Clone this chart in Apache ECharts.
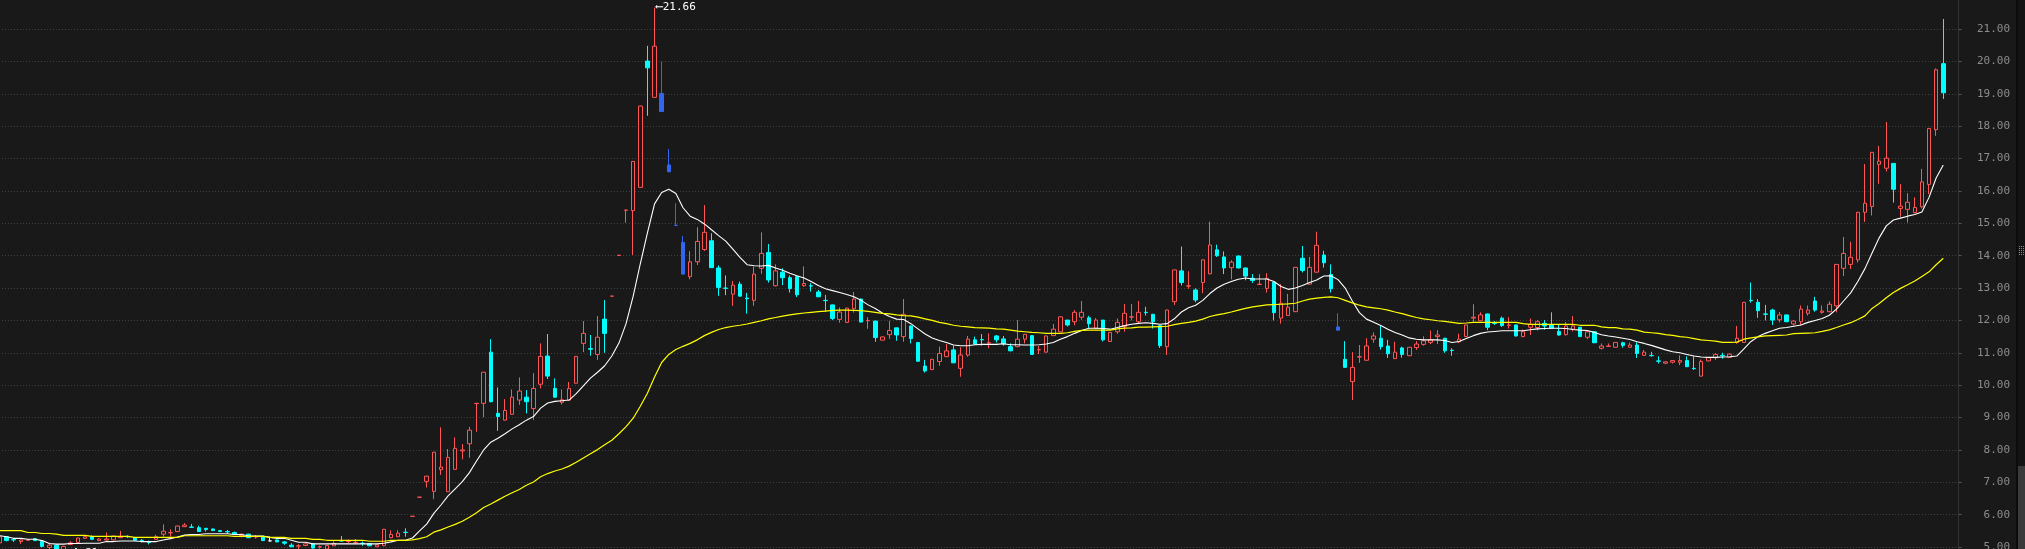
<!DOCTYPE html>
<html><head><meta charset="utf-8">
<script src="https://cdn.jsdelivr.net/npm/echarts@6.0.0/dist/echarts.min.js"></script>
<style>html,body{margin:0;padding:0;background:#191919;overflow:hidden}#c{width:2025px;height:549px}</style>
</head><body><div id="c"></div>
<script>
// [open, close, low, high]
const candles = [
[5.13,5.32,5.10,5.34],[5.32,5.20,5.18,5.33],[5.23,5.22,5.16,5.28],[5.17,5.22,5.10,5.23],[5.21,5.22,5.21,5.22],
[5.26,5.20,5.20,5.27],[5.17,5.02,4.99,5.18],[4.99,5.06,4.93,5.13],[5.06,4.92,4.90,5.08],[4.90,5.02,4.81,5.04],
[5.08,5.13,5.06,5.18],[5.14,5.28,5.13,5.29],[5.27,5.32,5.26,5.33],[5.32,5.24,5.23,5.36],[5.20,5.25,5.19,5.28],
[5.22,5.25,5.20,5.45],[5.22,5.34,5.21,5.35],[5.29,5.32,5.28,5.50],[5.33,5.32,5.28,5.36],[5.28,5.21,5.20,5.29],
[5.21,5.20,5.14,5.25],[5.15,5.14,5.08,5.20],[5.24,5.32,5.22,5.38],[5.40,5.49,5.32,5.70],[5.44,5.45,5.32,5.55],
[5.48,5.65,5.47,5.66],[5.63,5.68,5.62,5.74],[5.62,5.61,5.60,5.71],[5.60,5.48,5.47,5.66],[5.58,5.54,5.48,5.58],
[5.56,5.51,5.50,5.57],[5.51,5.48,5.47,5.53],[5.48,5.47,5.42,5.53],[5.45,5.39,5.38,5.48],[5.36,5.40,5.30,5.41],
[5.40,5.29,5.28,5.41],[5.31,5.32,5.26,5.37],[5.32,5.20,5.19,5.33],[5.19,5.19,5.19,5.32],[5.22,5.16,5.15,5.23],
[5.16,5.12,5.07,5.19],[5.06,5.01,5.00,5.12],[5.03,5.04,4.94,5.09],[5.05,5.10,5.04,5.12],[5.10,4.97,4.95,5.11],
[5.00,5.01,4.95,5.05],[4.94,5.05,4.92,5.06],[5.04,5.11,5.03,5.18],[5.20,5.19,5.16,5.34],[5.17,5.18,5.12,5.23],
[5.14,5.15,5.11,5.25],[5.12,5.11,5.04,5.17],[5.11,5.04,5.03,5.12],[5.01,5.07,5.00,5.08],[5.04,5.55,5.03,5.56],
[5.29,5.39,5.27,5.52],[5.32,5.43,5.31,5.52],[5.46,5.45,5.32,5.58],[5.95,5.95,5.95,5.95],[6.54,6.54,6.54,6.54],
[7.03,7.19,6.84,7.20],[6.72,7.93,6.48,7.94],[7.39,7.47,7.23,8.70],[6.71,7.77,6.70,8.03],[7.40,8.05,7.39,8.39],
[7.97,8.00,7.71,8.18],[8.19,8.61,7.76,8.71],[9.43,9.44,8.56,9.44],[9.44,10.40,9.01,10.41],[11.02,9.49,9.47,11.42],
[9.13,9.03,8.59,9.93],[8.92,9.22,8.91,9.57],[9.10,9.63,9.09,9.87],[9.54,9.82,9.39,10.24],[9.63,9.49,9.13,9.85],
[9.28,9.90,8.92,10.37],[10.03,10.89,9.90,11.29],[10.90,10.28,10.19,11.58],[9.90,9.63,9.61,10.21],[9.47,9.55,9.40,9.87],
[9.54,9.90,9.51,10.10],[10.06,10.89,10.05,10.90],[11.29,11.60,11.02,11.98],[11.13,11.11,10.91,11.55],[10.95,11.48,10.78,12.14],
[12.04,11.60,11.00,12.63],[12.75,12.75,12.75,12.75],[14.01,14.01,14.01,14.01],[15.40,15.41,15.02,15.41],[15.39,16.91,14.02,16.92],
[16.11,18.62,16.10,18.63],[20.01,19.80,18.32,20.48],[18.89,20.47,18.88,21.66],[19.01,18.45,18.44,19.99],[16.80,16.59,16.58,17.29],
[14.94,14.93,14.93,15.62],[14.41,13.43,13.42,14.61],[13.35,13.81,13.27,14.14],[13.81,14.44,13.71,14.88],[14.19,14.72,14.15,15.56],
[14.46,13.63,13.62,14.69],[13.62,13.02,12.76,13.70],[13.00,12.99,12.78,13.39],[12.81,13.09,12.45,13.22],[13.12,12.75,12.74,13.20],
[12.69,12.67,12.21,12.85],[12.62,13.43,12.45,13.66],[13.61,14.07,13.44,14.72],[14.10,13.25,13.17,14.36],[13.07,13.53,13.05,13.73],
[13.49,13.32,13.09,13.61],[13.32,12.98,12.86,13.39],[13.35,12.79,12.72,13.37],[13.07,13.14,13.04,13.67],[13.07,13.06,12.89,13.15],
[12.88,12.73,12.72,12.94],[12.62,12.61,12.27,12.79],[12.48,12.06,12.01,12.49],[12.03,12.26,11.93,12.40],[11.94,12.38,11.93,12.39],
[12.36,12.66,12.24,12.88],[12.66,11.95,11.94,12.67],[11.99,12.00,11.74,12.10],[11.98,11.47,11.34,11.99],[11.39,11.49,11.38,11.50],
[11.56,11.69,11.43,11.99],[11.77,11.55,11.37,11.78],[11.50,12.19,11.34,12.66],[11.83,11.44,11.29,11.84],[11.32,10.74,10.72,11.33],
[10.59,10.44,10.39,10.78],[10.48,10.80,10.47,10.81],[10.73,10.98,10.60,11.19],[10.88,11.06,10.87,11.27],[11.09,10.69,10.68,11.22],
[10.52,10.93,10.26,11.17],[10.93,11.42,10.88,11.52],[11.40,11.27,11.26,11.50],[11.41,11.40,11.22,11.58],[11.30,11.31,11.14,11.60],
[11.52,11.40,11.32,11.55],[11.43,11.27,11.22,11.52],[11.19,11.06,11.05,11.29],[11.19,11.42,11.17,12.01],[11.42,11.57,11.29,11.58],
[11.53,10.95,10.94,11.54],[11.09,11.10,10.96,11.21],[11.02,11.52,11.01,11.53],[11.53,11.73,11.52,11.89],[11.65,12.11,11.64,12.12],
[12.01,11.86,11.81,12.02],[11.96,12.25,11.85,12.32],[12.10,12.25,12.02,12.60],[12.08,11.90,11.77,12.14],[11.76,12.01,11.74,12.07],
[12.01,11.40,11.35,12.02],[11.35,11.63,11.34,11.64],[11.65,11.94,11.59,12.06],[11.81,12.22,11.65,12.51],[12.10,12.11,12.00,12.51],
[11.96,12.25,11.90,12.60],[12.25,12.24,12.15,12.42],[12.19,11.96,11.75,12.20],[11.84,11.22,11.15,11.85],[11.19,12.32,10.93,12.33],
[12.58,13.56,12.48,13.57],[13.53,13.17,13.08,14.28],[13.06,13.07,12.98,13.52],[12.94,12.63,12.56,12.99],[13.17,13.87,12.84,13.88],
[13.44,14.33,13.42,15.05],[14.18,14.00,13.96,14.34],[13.96,13.62,13.43,14.13],[13.63,13.80,13.27,13.86],[13.99,13.62,13.61,14.00],
[13.62,13.37,13.24,13.63],[13.30,13.23,13.16,13.43],[13.11,13.12,13.09,13.43],[12.99,13.30,12.86,13.46],[13.18,12.24,12.00,13.19],
[12.07,12.53,11.90,13.12],[12.15,12.41,12.14,12.82],[12.27,13.64,12.26,13.65],[13.92,13.54,13.48,14.30],[13.12,13.64,13.11,13.96],
[13.49,14.32,13.48,14.74],[14.02,13.78,13.63,14.15],[13.42,12.98,12.86,13.73],[11.80,11.70,11.69,12.22],[10.80,10.55,10.54,11.36],
[10.11,10.55,9.54,11.02],[10.87,10.88,10.69,11.24],[10.77,11.21,10.76,11.45],[11.42,11.52,11.31,11.63],[11.45,11.19,11.10,11.84],
[11.21,10.97,10.84,11.40],[10.82,11.02,10.81,11.34],[11.15,10.95,10.85,11.19],[10.91,11.17,10.90,11.18],[11.16,11.27,11.09,11.36],
[11.26,11.37,11.22,11.51],[11.32,11.40,11.27,11.69],[11.50,11.55,11.27,11.70],[11.45,11.06,11.00,11.46],[11.08,11.07,10.91,11.14],
[11.34,11.42,11.30,11.59],[11.50,11.86,11.49,11.87],[12.07,12.10,11.92,12.50],[11.99,12.17,11.98,12.25],[12.20,11.79,11.70,12.21],
[11.92,11.91,11.86,11.98],[12.07,11.84,11.80,12.12],[11.85,11.86,11.75,12.10],[11.86,11.52,11.50,11.87],[11.50,11.65,11.48,11.72],
[11.79,11.88,11.55,12.06],[11.78,11.96,11.69,12.01],[11.91,11.83,11.71,12.01],[11.86,11.76,11.75,12.25],[11.66,11.55,11.53,11.87],
[11.56,11.83,11.53,11.95],[11.73,11.83,11.66,12.14],[11.79,11.50,11.49,11.80],[11.48,11.65,11.42,11.66],[11.65,11.31,11.30,11.66],
[11.14,11.21,11.10,11.29],[11.20,11.21,11.20,11.29],[11.17,11.32,11.16,11.33],[11.31,11.23,11.16,11.34],[11.17,11.24,11.16,11.32],
[11.24,10.98,10.84,11.32],[10.92,11.02,10.91,11.09],[10.92,10.91,10.88,11.03],[10.75,10.74,10.67,10.89],[10.68,10.72,10.65,10.73],
[10.71,10.76,10.67,10.77],[10.71,10.76,10.62,10.92],[10.76,10.57,10.56,10.89],[10.52,10.51,10.47,10.89],[10.28,10.73,10.27,10.79],
[10.75,10.85,10.74,10.86],[10.85,10.95,10.78,10.99],[10.92,10.91,10.82,11.00],[10.86,10.96,10.84,10.98],[11.32,11.45,11.28,11.83],
[11.32,12.56,11.31,12.57],[12.62,12.61,12.55,13.17],[12.56,12.30,12.08,12.66],[12.20,12.19,12.00,12.48],[12.32,12.01,11.86,12.36],
[12.02,12.17,11.94,12.26],[12.17,11.96,11.95,12.18],[11.89,11.98,11.84,12.01],[11.96,12.35,11.84,12.46],[12.22,12.32,12.15,12.46],
[12.60,12.32,12.27,12.73],[12.25,12.29,12.21,12.46],[12.27,12.50,12.25,12.59],[12.45,13.73,12.25,13.74],[13.61,14.07,13.37,14.58],
[13.73,13.95,13.59,14.43],[13.87,15.34,13.79,15.35],[15.34,15.62,15.04,16.83],[15.52,17.19,15.24,17.20],[16.82,16.92,16.22,17.39],
[16.70,17.01,16.60,18.13],[16.85,16.05,15.64,16.86],[15.46,15.53,15.20,16.21],[15.43,15.65,15.02,15.93],[15.33,15.49,15.31,15.80],
[15.51,16.28,15.46,16.68],[16.20,17.93,15.90,17.94],[17.89,19.74,17.70,19.78],[19.93,19.03,18.84,21.31]
];

// short moving average (white)
const maShort = [
5.35,5.32,5.27,5.27,5.24,5.24,5.20,5.11,5.09,5.09,
5.11,5.11,5.12,5.12,5.12,5.17,5.17,5.19,5.19,5.19,
5.17,5.17,5.17,5.22,5.26,5.31,5.37,5.39,5.39,5.41,
5.41,5.41,5.41,5.39,5.39,5.34,5.34,5.34,5.30,5.27,
5.27,5.21,5.15,5.15,5.10,5.10,5.10,5.10,5.10,5.10,
5.10,5.10,5.10,5.10,5.12,5.16,5.21,5.21,5.28,5.50,
5.71,6.04,6.30,6.58,6.80,7.02,7.30,7.66,8.00,8.24,
8.36,8.50,8.65,8.78,8.92,9.03,9.29,9.45,9.50,9.52,
9.54,9.74,9.98,10.22,10.40,10.60,10.90,11.30,11.90,12.75,
13.75,14.70,15.60,15.95,16.05,15.92,15.48,15.22,15.12,14.98,
14.80,14.62,14.45,14.20,13.95,13.72,13.69,13.68,13.70,13.62,
13.55,13.46,13.38,13.31,13.20,13.08,12.98,12.92,12.86,12.80,
12.73,12.62,12.48,12.37,12.23,12.12,12.04,12.03,11.90,11.74,
11.58,11.46,11.38,11.32,11.24,11.22,11.22,11.25,11.26,11.26,
11.26,11.28,11.25,11.25,11.24,11.24,11.25,11.27,11.32,11.42,
11.50,11.60,11.69,11.76,11.76,11.75,11.73,11.78,11.84,11.88,
11.91,11.93,11.91,11.88,11.90,12.05,12.26,12.39,12.47,12.62,
12.83,13.00,13.12,13.20,13.27,13.31,13.28,13.28,13.28,13.20,
13.05,12.96,13.00,13.08,13.17,13.25,13.37,13.38,13.26,13.00,
12.60,12.24,12.04,11.94,11.84,11.73,11.63,11.55,11.46,11.42,
11.40,11.40,11.40,11.38,11.32,11.35,11.44,11.53,11.60,11.64,
11.66,11.68,11.68,11.68,11.68,11.71,11.74,11.75,11.76,11.76,
11.75,11.72,11.70,11.69,11.63,11.56,11.52,11.49,11.45,11.41,
11.34,11.29,11.23,11.16,11.09,11.03,11.00,10.95,10.90,10.87,
10.86,10.86,10.87,10.88,10.90,11.12,11.35,11.50,11.60,11.68,
11.76,11.78,11.82,11.86,11.94,12.00,12.06,12.16,12.35,12.60,
12.85,13.20,13.60,14.08,14.55,14.92,15.10,15.16,15.22,15.27,
15.35,15.80,16.40,16.80
];

// long moving average (yellow)
const maLong = [
5.51,5.51,5.51,5.51,5.45,5.45,5.42,5.42,5.40,5.36,
5.36,5.36,5.36,5.33,5.33,5.33,5.33,5.33,5.33,5.30,
5.30,5.30,5.30,5.30,5.30,5.30,5.35,5.35,5.35,5.35,
5.35,5.35,5.35,5.33,5.33,5.33,5.33,5.33,5.30,5.30,
5.30,5.27,5.27,5.27,5.24,5.24,5.21,5.21,5.21,5.21,
5.21,5.21,5.18,5.18,5.18,5.21,5.21,5.21,5.22,5.26,
5.32,5.46,5.53,5.62,5.70,5.80,5.92,6.06,6.22,6.33,
6.45,6.57,6.68,6.78,6.91,7.01,7.17,7.27,7.35,7.41,
7.50,7.62,7.75,7.88,8.01,8.16,8.30,8.50,8.72,8.98,
9.35,9.75,10.25,10.70,10.95,11.10,11.20,11.29,11.40,11.53,
11.63,11.72,11.78,11.82,11.85,11.89,11.94,11.99,12.05,12.09,
12.13,12.17,12.20,12.23,12.25,12.27,12.29,12.31,12.32,12.32,
12.31,12.30,12.28,12.25,12.22,12.20,12.17,12.15,12.14,12.10,
12.05,12.00,11.94,11.90,11.85,11.82,11.80,11.78,11.77,11.76,
11.74,11.73,11.70,11.67,11.65,11.63,11.62,11.60,11.60,11.60,
11.62,11.66,11.69,11.70,11.70,11.70,11.70,11.74,11.76,11.77,
11.79,11.79,11.80,11.81,11.82,11.87,11.91,11.94,11.98,12.04,
12.12,12.17,12.21,12.26,12.32,12.37,12.42,12.45,12.48,12.49,
12.50,12.51,12.53,12.60,12.66,12.69,12.71,12.73,12.70,12.62,
12.54,12.47,12.42,12.39,12.36,12.32,12.26,12.21,12.15,12.09,
12.05,12.02,11.99,11.97,11.94,11.91,11.92,11.94,11.94,11.94,
11.94,11.94,11.94,11.94,11.90,11.88,11.88,11.88,11.88,11.88,
11.88,11.88,11.85,11.85,11.85,11.80,11.78,11.78,11.74,11.73,
11.70,11.64,11.62,11.60,11.56,11.54,11.50,11.48,11.44,11.40,
11.38,11.36,11.32,11.32,11.33,11.42,11.46,11.49,11.52,11.53,
11.54,11.55,11.59,11.60,11.61,11.62,11.66,11.71,11.78,11.86,
11.93,12.03,12.14,12.37,12.52,12.70,12.86,12.99,13.10,13.22,
13.36,13.50,13.72,13.92
];

const yMin = 4, yMax = 22, yStep = 1;
const blueCandles = [93, 94, 95, 96, 188];
const whiteCandles = [38];

// ---------- styling / layout ----------
const BG = '#191919', RED = '#ff5555', CYAN = '#00ffff', BLUE = '#3366ee';
const band = 7.12, trailingSlots = 2;
const nCat = candles.length + trailingSlots;
const categories = candles.map((_, i) => 'd' + i);
for (let k = 0; k < trailingSlots; k++) categories.push('pad' + k);
const pxPerUnit = 32.38, yOf21 = 29;
const gridTop = yOf21 - (yMax - 21) * pxPerUnit;
const gridHeight = (yMax - yMin) * pxPerUnit;
const gridLeft = -0.5 - band / 2;
const gridWidth = band * nCat;

function solid(c) { return { color: c, color0: c, borderColor: c, borderColor0: c }; }
const candleData = candles.map((v, i) => {
  if (blueCandles.includes(i)) return { value: v, itemStyle: solid(BLUE) };
  if (whiteCandles.includes(i)) return { value: v, itemStyle: solid('#ffffff') };
  return v;
});

const chart = echarts.init(document.getElementById('c'), null, { renderer: 'canvas', width: 2025, height: 549 });
chart.setOption({
  backgroundColor: BG,
  animation: false,
  grid: { left: gridLeft, top: gridTop, width: gridWidth, height: gridHeight, containLabel: false, outerBoundsMode: 'none' },
  xAxis: {
    type: 'category', data: categories, boundaryGap: true,
    axisLine: { show: false }, axisTick: { show: false }, axisLabel: { show: false }, splitLine: { show: false }
  },
  yAxis: {
    type: 'value', position: 'right', min: yMin, max: yMax, interval: yStep, offset: -2.5,
    axisLine: { show: true, lineStyle: { color: '#333333', width: 1 } },
    axisTick: { show: true, length: 3, lineStyle: { color: '#555555' } },
    axisLabel: {
      show: true, showMinLabel: false, showMaxLabel: false, align: 'right', margin: 51.5,
      color: '#8c8c8c', fontFamily: 'DejaVu Sans Mono', fontSize: 11,
      formatter: v => v.toFixed(2)
    },
    splitLine: { show: true, lineStyle: { color: '#444444', width: 1, type: [1, 2] } }
  },
  series: [
    {
      type: 'candlestick', data: candleData, barWidth: 4,
      itemStyle: { color: BG, color0: CYAN, borderColor: RED, borderColor0: CYAN, borderWidth: 1 },
      markPoint: {
        symbol: 'circle', symbolSize: 1, itemStyle: { color: 'rgba(0,0,0,0)' },
        label: {
          show: true, position: 'right', distance: 1, color: '#ffffff',
          fontFamily: 'DejaVu Sans Mono', fontSize: 11,
          formatter: p => '\u27F5' + Number(p.value).toFixed(2)
        },
        data: [
          { type: 'max', valueDim: 'highest' },
          { type: 'min', valueDim: 'lowest' }
        ]
      },
      z: 2
    },
    {
      type: 'line', data: maShort, symbol: 'none', smooth: false,
      lineStyle: { color: '#ffffff', width: 1.1 }, z: 3
    },
    {
      type: 'line', data: maLong, symbol: 'none', smooth: false,
      lineStyle: { color: '#ffff00', width: 1.2 }, z: 3
    }
  ],
  graphic: [
    { type: 'rect', shape: { x: 2016, y: 0, width: 2, height: 549 }, style: { fill: '#0c0c0c' }, silent: true },
    { type: 'rect', shape: { x: 2018, y: 0, width: 7, height: 549 }, style: { fill: '#141414' }, silent: true },
    { type: 'rect', shape: { x: 2018, y: 466, width: 7, height: 83 }, style: { fill: '#3a3a3a' }, silent: true },
    { type: 'line', shape: { x1: 2019.5, y1: 246, x2: 2019.5, y2: 255 }, style: { stroke: '#8a8a8a', lineWidth: 1, lineDash: [1, 1] }, silent: true },
    { type: 'line', shape: { x1: 2021.5, y1: 246, x2: 2021.5, y2: 255 }, style: { stroke: '#8a8a8a', lineWidth: 1, lineDash: [1, 1] }, silent: true },
    { type: 'line', shape: { x1: 2023.5, y1: 246, x2: 2023.5, y2: 255 }, style: { stroke: '#8a8a8a', lineWidth: 1, lineDash: [1, 1] }, silent: true }
  ]
});
</script>
</body></html>
